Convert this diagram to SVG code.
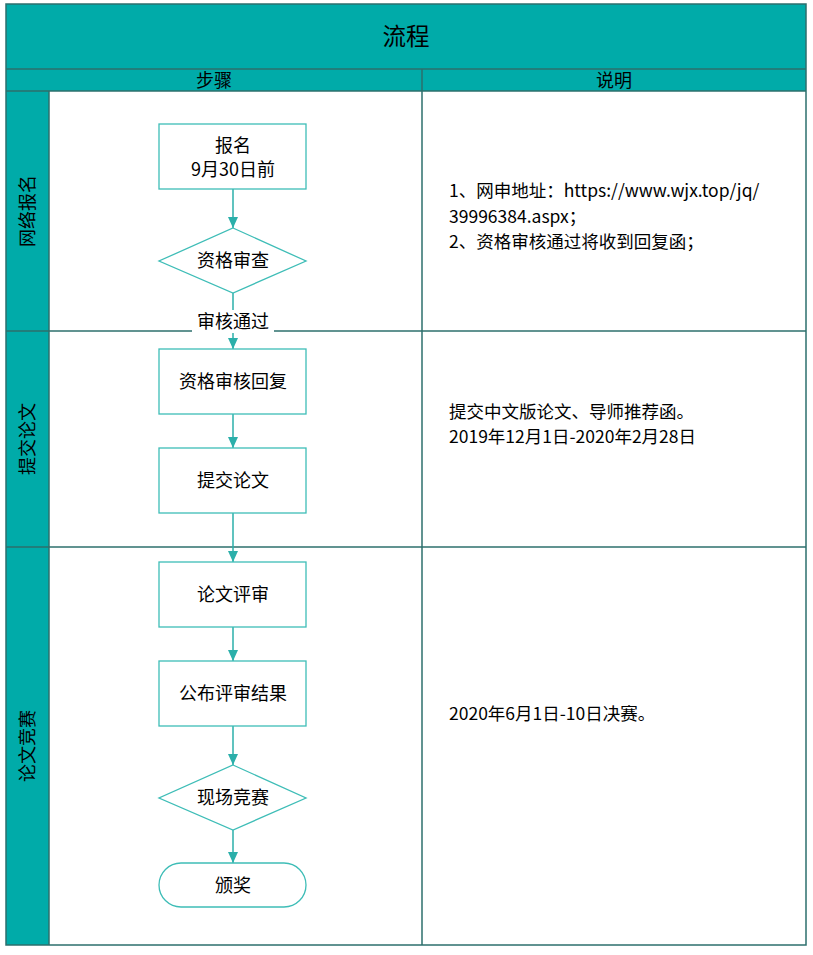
<svg xmlns="http://www.w3.org/2000/svg" width="813" height="955" viewBox="0 0 813 955">
<style>
.t{font-family:"Noto Sans CJK SC","Liberation Sans",sans-serif;fill:#000;}
.n{fill:#fff;stroke:#3EBDB7;stroke-width:1.3;}
.c{stroke:#2BAFAA;stroke-width:1.5;fill:none;}
.grid{stroke:#2C6F6D;stroke-width:1.5;fill:none;}
.teal{fill:#00ABA9;}
</style>
<defs>
<marker id="ah" markerWidth="12" markerHeight="10" refX="11" refY="5" orient="auto" markerUnits="userSpaceOnUse">
<path d="M0,0 L11,5 L0,10 Z" fill="#2BAFAA"/>
</marker>
</defs>
<rect x="0" y="0" width="813" height="955" fill="#fff"/>
<g id="table">
<rect class="teal" x="6" y="4" width="800" height="87"/>
<rect class="teal" x="6" y="91" width="43" height="854"/>
<rect class="grid" x="6" y="4" width="800" height="941"/>
<line class="grid" x1="6" y1="69" x2="806" y2="69"/>
<line class="grid" x1="6" y1="91" x2="806" y2="91"/>
<line class="grid" x1="422" y1="69" x2="422" y2="945"/>
<line class="grid" x1="49" y1="91" x2="49" y2="945"/>
<line class="grid" x1="6" y1="331" x2="806" y2="331"/>
<line class="grid" x1="6" y1="547" x2="806" y2="547"/>
<text class="t" x="406" y="45" font-size="23.5" text-anchor="middle">流程</text>
<text class="t" x="214" y="87" font-size="18" text-anchor="middle">步骤</text>
<text class="t" x="614" y="87" font-size="18" text-anchor="middle">说明</text>
<text class="t" font-size="18" text-anchor="middle" transform="translate(34,211) rotate(-90)">网络报名</text>
<text class="t" font-size="18" text-anchor="middle" transform="translate(34,439) rotate(-90)">提交论文</text>
<text class="t" font-size="18" text-anchor="middle" transform="translate(34,746) rotate(-90)">论文竞赛</text>
<text class="t" font-size="17.5" x="449" y="197">1、网申地址：https://www.wjx.top/jq/</text>
<text class="t" font-size="17.5" x="449" y="223">39996384.aspx；</text>
<text class="t" font-size="17.5" x="449" y="248">2、资格审核通过将收到回复函；</text>
<text class="t" font-size="17.5" x="449" y="418">提交中文版论文、导师推荐函。</text>
<text class="t" font-size="17.5" x="449" y="443">2019年12月1日-2020年2月28日</text>
<text class="t" font-size="17.5" x="449" y="720">2020年6月1日-10日决赛。</text>
</g>
<g id="connectors">
<line class="c" x1="233" y1="189" x2="233" y2="228" marker-end="url(#ah)"/>
<line class="c" x1="233" y1="293" x2="233" y2="349" marker-end="url(#ah)"/>
<rect x="192" y="310" width="82" height="23" fill="#fff"/>
<text class="t" font-size="18" x="233" y="328" text-anchor="middle">审核通过</text>
<line class="c" x1="233" y1="414" x2="233" y2="448" marker-end="url(#ah)"/>
<line class="c" x1="233" y1="513" x2="233" y2="562" marker-end="url(#ah)"/>
<line class="c" x1="233" y1="627" x2="233" y2="661" marker-end="url(#ah)"/>
<line class="c" x1="233" y1="726" x2="233" y2="765" marker-end="url(#ah)"/>
<line class="c" x1="233" y1="830" x2="233" y2="863" marker-end="url(#ah)"/>
</g>
<g id="n1">
<rect class="n" x="159" y="124" width="147" height="65"/>
<text class="t" font-size="18" x="233" y="152" text-anchor="middle">报名</text>
<text class="t" font-size="18" x="233" y="176" text-anchor="middle">9月30日前</text>
</g>
<g id="n2">
<polygon class="n" points="233,228 306,261 233,293 159,261"/>
<text class="t" font-size="18" x="233" y="267" text-anchor="middle">资格审查</text>
</g>
<g id="n3">
<rect class="n" x="159" y="349" width="147" height="65"/>
<text class="t" font-size="18" x="233" y="388" text-anchor="middle">资格审核回复</text>
</g>
<g id="n4">
<rect class="n" x="159" y="448" width="147" height="65"/>
<text class="t" font-size="18" x="233" y="487" text-anchor="middle">提交论文</text>
</g>
<g id="n5">
<rect class="n" x="159" y="562" width="147" height="65"/>
<text class="t" font-size="18" x="233" y="601" text-anchor="middle">论文评审</text>
</g>
<g id="n6">
<rect class="n" x="159" y="661" width="147" height="65"/>
<text class="t" font-size="18" x="233" y="700" text-anchor="middle">公布评审结果</text>
</g>
<g id="n7">
<polygon class="n" points="233,765 306,798 233,830 159,798"/>
<text class="t" font-size="18" x="233" y="804" text-anchor="middle">现场竞赛</text>
</g>
<g id="n8">
<rect class="n" x="159" y="863" width="147" height="44" rx="22" ry="22"/>
<text class="t" font-size="18" x="233" y="892" text-anchor="middle">颁奖</text>
</g>
</svg>
